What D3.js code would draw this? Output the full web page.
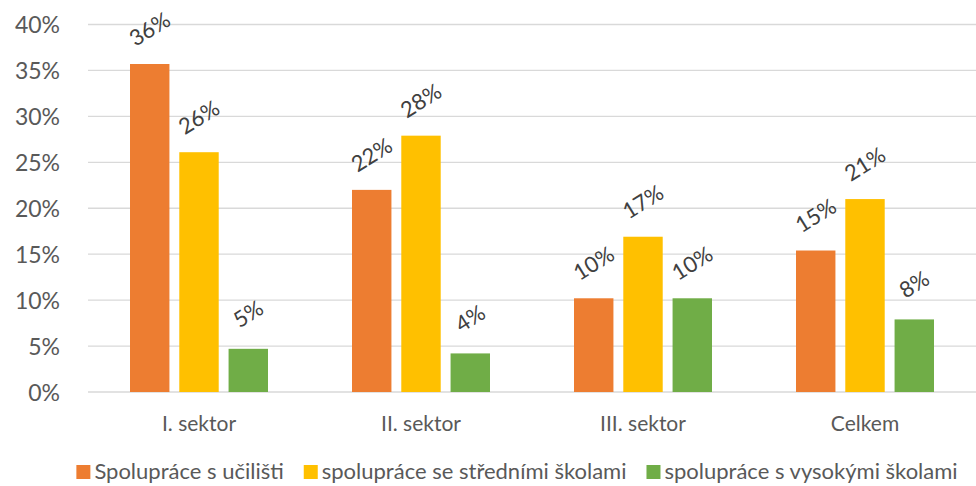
<!DOCTYPE html>
<html><head><meta charset="utf-8">
<script src="https://cdn.jsdelivr.net/npm/d3@7"></script>
<style>body{margin:0;background:#fff}svg{display:block}text{font-family:Lato,"Open Sans",sans-serif}</style>
</head><body><svg id="c" width="976" height="486"></svg>
<script>
const categories = ["I. sektor", "II. sektor", "III. sektor", "Celkem"];
const seriesNames = ["Spolupráce s učilišti", "spolupráce se středními školami", "spolupráce s vysokými školami"];
const ucilisti = [35.7, 22.0, 10.2, 15.4];
const stredni = [26.1, 27.9, 16.9, 21.0];
const vysoke = [4.7, 4.2, 10.2, 7.9];
const labelsU = ["36%", "22%", "10%", "15%"];
const labelsS = ["26%", "28%", "17%", "21%"];
const labelsV = ["5%", "4%", "10%", "8%"];
const yTicks = [0, 5, 10, 15, 20, 25, 30, 35, 40];
const colors = ["#ED7D31", "#FFC000", "#70AD47"];

const series = [ucilisti, stredni, vysoke];
const labels = [labelsU, labelsS, labelsV];
const svg = d3.select("#c");
const m = {l: 88, r: 0};
const W = 976, H = 486;
const x = d3.scaleBand().domain(categories).range([m.l, W - m.r]);
const xs = d3.scaleBand().domain([0,1,2]).range([0, 138]).paddingInner(0.2);
const y = d3.scaleLinear().domain([0, 40]).range([392, 24.5]);

// grid
svg.append("g").selectAll("line").data(yTicks).join("line")
  .attr("x1", m.l).attr("x2", W).attr("y1", d => y(d)).attr("y2", d => y(d))
  .attr("stroke", "#D9D9D9").attr("stroke-width", 1.3);

// y labels
const yAxis = d3.axisLeft(y).tickValues(yTicks).tickFormat(d => d + "%").tickSize(0).tickPadding(0);
const ya = svg.append("g").attr("transform", `translate(60,0)`).call(yAxis);
ya.select(".domain").remove();
ya.selectAll("text").attr("font-size", 23).attr("fill", "#595959").attr("font-family", "Lato,sans-serif").attr("dy", "0.36em");

// bars
categories.forEach((c, i) => {
  const gx = x(c) + x.bandwidth() / 2 - 69;
  series.forEach((s, k) => {
    const bx = gx + xs(k);
    svg.append("rect").attr("x", bx).attr("y", y(s[i])).attr("width", xs.bandwidth())
      .attr("height", y(0) - y(s[i])).attr("fill", colors[k]);
    const cx = bx + xs.bandwidth() / 2, cy = y(s[i]) - 35;
    svg.append("text").attr("transform", `translate(${cx},${cy}) rotate(-32)`)
      .attr("text-anchor", "middle").attr("dy", "0.35em").attr("font-size", 22)
      .attr("fill", "#404040").text(labels[k][i]);
  });
});

// x labels
const xAxis = d3.axisBottom(x).tickSize(0).tickPadding(0);
const xa = svg.append("g").attr("transform", "translate(0,424)").call(xAxis);
xa.select(".domain").remove();
xa.selectAll("text").attr("font-size", 21).attr("fill", "#595959").attr("font-family", "Lato,sans-serif").attr("dy", "0.35em");

// legend
const lg = svg.append("g");
let cur = 0;
const gap = 20;
seriesNames.forEach((n, k) => {
  const g = lg.append("g");
  g.append("rect").attr("x", 0).attr("y", -7).attr("width", 14).attr("height", 14).attr("fill", colors[k]);
  const t = g.append("text").attr("x", 18).attr("dy", "0.33em").attr("font-size", 22).attr("fill", "#595959").text(n);
  const w = 18 + t.node().getComputedTextLength();
  g.attr("transform", `translate(${cur},472)`);
  cur += w + gap;
});
const total = cur - gap;
lg.attr("transform", `translate(${(62 + 972) / 2 - total / 2},0)`);
</script></body></html>
